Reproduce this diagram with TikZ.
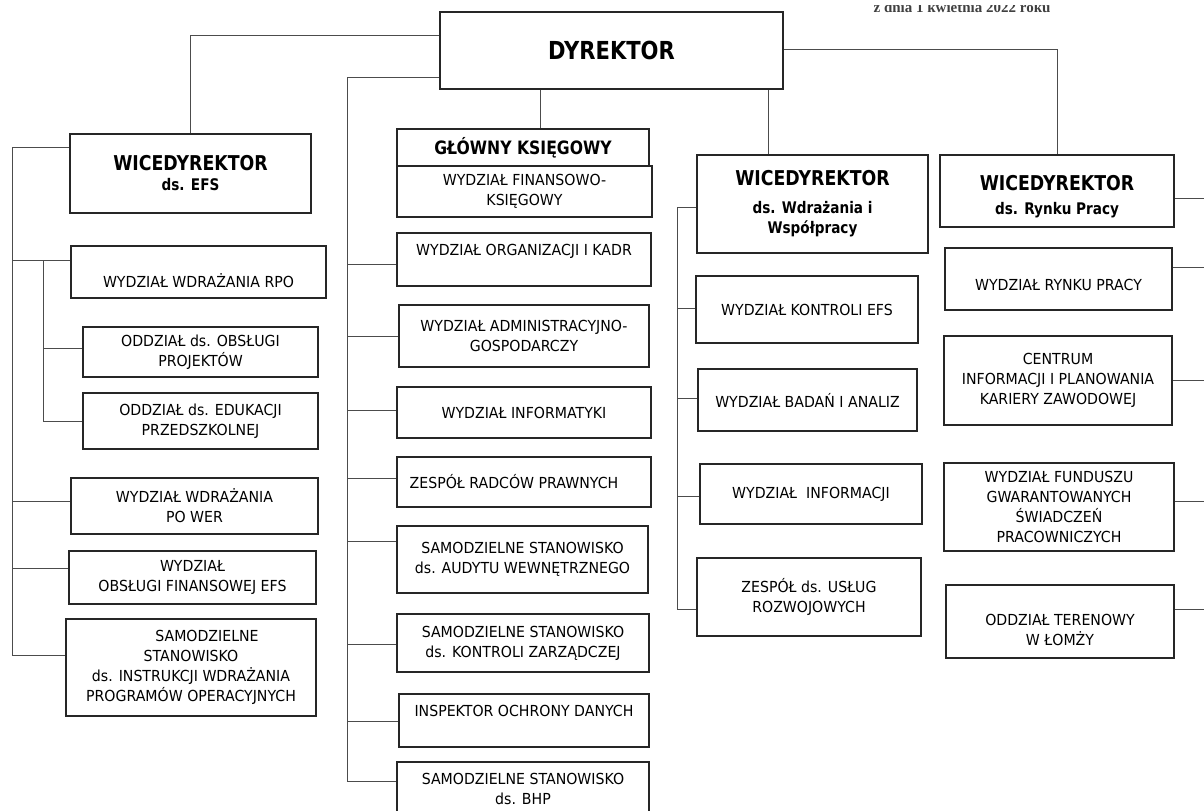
\documentclass[tikz,border=0pt]{standalone}
\usepackage{fontspec}
\setmainfont{DejaVu Sans}[FakeStretch=0.93]
\newfontfamily\headfont{DejaVu Sans}[FakeStretch=0.85]
\newfontfamily\datefont{Liberation Serif}
\newcommand\bossfont{\headfont\bfseries\fontsize{12.4}{14}\selectfont}
\newcommand\vdtitle{\headfont\bfseries\fontsize{10.2}{12}\selectfont}
\newcommand\vdsub{\headfont\bfseries\fontsize{8}{9.5}\selectfont}
\newcommand\gkfont{\headfont\bfseries\fontsize{9.2}{11}\selectfont}
\newcommand\shiftdn[1]{\rule{0pt}{\dimexpr5.5pt+#1pt\relax}}
\newcommand\shiftup[1]{\rule[-#1pt]{0pt}{#1pt}}
\tikzset{
    orgbox/.style = {draw=black!85, line width=0.65pt, align=center, inner sep=0pt, font=\fontsize{7.6}{10}\selectfont},
    dims/.style 2 args = {minimum width=#1*0.5pt, minimum height=#2*0.5pt},
    conn/.style = {draw=black!70, line width=0.5pt}
}

\begin{document}
\begin{tikzpicture}[x=0.5pt, y=-0.5pt]
        \useasboundingbox (0,0) rectangle (1204,810);

        \begin{scope}
            \clip (850,5.5) rectangle (1070,20);
            \node[font=\datefont\bfseries\fontsize{7.5}{9}\selectfont, text=black!75, anchor=base] (date) at (962,12) {z dnia 1 kwietnia 2022 roku};
        \end{scope}

        \node[orgbox, dims={343}{77}] (dyr) at (611.5,50.5) {\bossfont DYREKTOR};
        \node[orgbox, dims={241}{79}] (efs) at (190.5,173.5) {{\vdtitle WICEDYREKTOR}\\{\vdsub ds. EFS}};
        \node[orgbox, dims={252}{37}] (gk) at (523,147.5) {\gkfont GŁÓWNY KSIĘGOWY};
        \node[orgbox, dims={255}{51}] (fk) at (524.5,191.5) {WYDZIAŁ FINANSOWO-\\KSIĘGOWY};
        \node[orgbox, dims={231}{98}] (wdr) at (812.5,204) {{\vdtitle WICEDYREKTOR}\\[4pt]{\vdsub ds. Wdrażania i}\\{\vdsub Współpracy}};
        \node[orgbox, dims={234}{72}] (rp) at (1057,191) {{\vdtitle\shiftdn{8}WICEDYREKTOR}\\[2pt]{\vdsub ds. Rynku Pracy}};

        \node[orgbox, dims={255}{52}] (rpo) at (198.5,272) {\shiftdn{10}WYDZIAŁ WDRAŻANIA RPO};
        \node[orgbox, dims={235}{50}] (obs) at (200.5,352) {ODDZIAŁ ds. OBSŁUGI\\PROJEKTÓW};
        \node[orgbox, dims={235}{56}] (edu) at (200.5,421) {ODDZIAŁ ds. EDUKACJI\\PRZEDSZKOLNEJ};
        \node[orgbox, dims={247}{56}] (wer) at (194.5,506) {WYDZIAŁ WDRAŻANIA\\PO WER};
        \node[orgbox, dims={247}{53}] (fin) at (192.5,577.5) {WYDZIAŁ\\OBSŁUGI FINANSOWEJ EFS};
        \node[orgbox, dims={250}{97}] (ins) at (191,667.5) {\hspace*{16pt}SAMODZIELNE\\STANOWISKO\\ds. INSTRUKCJI WDRAŻANIA\\PROGRAMÓW OPERACYJNYCH};

        \node[orgbox, dims={254}{53}] (kadr) at (524,259.5) {WYDZIAŁ ORGANIZACJI I KADR\shiftup{9.5}};
        \node[orgbox, dims={250}{62}] (adm) at (524,336) {WYDZIAŁ ADMINISTRACYJNO-\\GOSPODARCZY};
        \node[orgbox, dims={254}{51}] (it) at (524,412.5) {WYDZIAŁ INFORMATYKI};
        \node[orgbox, dims={254}{50}] (rad) at (524,482) {ZESPÓŁ RADCÓW PRAWNYCH\hspace*{10pt}};
        \node[orgbox, dims={251}{67}] (aud) at (522.5,559.5) {SAMODZIELNE STANOWISKO\\ds. AUDYTU WEWNĘTRZNEGO};
        \node[orgbox, dims={252}{58}] (kz) at (523,643) {SAMODZIELNE STANOWISKO\\ds. KONTROLI ZARZĄDCZEJ};
        \node[orgbox, dims={250}{53}] (iod) at (524,720.5) {INSPEKTOR OCHRONY DANYCH\shiftup{9.5}};
        \node[orgbox, dims={252}{53}] (bhp) at (523,788.5) {SAMODZIELNE STANOWISKO\\ds. BHP};

        \node[orgbox, dims={222}{67}] (kon) at (807,309.5) {WYDZIAŁ KONTROLI EFS};
        \node[orgbox, dims={219}{62}] (bad) at (807.5,400) {WYDZIAŁ BADAŃ I ANALIZ};
        \node[orgbox, dims={222}{60}] (inf) at (811,494) {WYDZIAŁ\ \ INFORMACJI};
        \node[orgbox, dims={224}{78}] (usl) at (809,597) {ZESPÓŁ ds. USŁUG\\ROZWOJOWYCH};

        \node[orgbox, dims={227}{62}] (ryn) at (1058.5,279) {\shiftdn{6}WYDZIAŁ RYNKU PRACY};
        \node[orgbox, dims={228}{89}] (cen) at (1058,380.5) {CENTRUM\\INFORMACJI I PLANOWANIA\\KARIERY ZAWODOWEJ};
        \node[orgbox, dims={230}{88}] (fund) at (1059,507) {WYDZIAŁ FUNDUSZU\\GWARANTOWANYCH\\ŚWIADCZEŃ\\PRACOWNICZYCH};
        \node[orgbox, dims={228}{73}] (lom) at (1060,621.5) {\shiftdn{9}ODDZIAŁ TERENOWY\\W ŁOMŻY};

        \coordinate (ltrunk) at (12,655);
        \coordinate (itrunk) at (43,421);
        \coordinate (mtrunk) at (347,781);
        \coordinate (rtrunk) at (677,609);
        \coordinate (redge) at (1212,0);

        \draw[conn] (dyr.west |- 0,35) -| (efs.north);
        \draw[conn] (dyr.west |- 0,77) -| (mtrunk) -- (bhp.west |- mtrunk);
        \draw[conn] ([xshift=8.5pt]gk.north) -- ([xshift=8.5pt]gk.north |- dyr.south);
        \draw[conn] ([xshift=-22.25pt]wdr.north) -- ([xshift=-22.25pt]wdr.north |- dyr.south);
        \draw[conn] (dyr.east |- 0,49) -| (rp.north);

        \draw[conn] (efs.west |- 0,147) -| (ltrunk) -- (ins.west |- ltrunk);
        \foreach \n/\y in {rpo/260, wer/501, fin/568}
            \draw[conn] (\n.west |- 0,\y) -- (ltrunk |- 0,\y);
        \draw[conn] (itrunk |- 0,260) -- (itrunk) -- (edu.west |- itrunk);
        \draw[conn] (obs.west |- 0,348) -- (itrunk |- 0,348);

        \foreach \n/\y in {kadr/264, adm/336, it/410, rad/478, aud/541, kz/644, iod/721}
            \draw[conn] (\n.west |- 0,\y) -- (mtrunk |- 0,\y);

        \draw[conn] (wdr.west |- 0,207) -| (rtrunk) -- (usl.west |- rtrunk);
        \foreach \n/\y in {kon/308, bad/398, inf/496}
            \draw[conn] (\n.west |- 0,\y) -- (rtrunk |- 0,\y);

        \foreach \n/\y in {rp/198, ryn/267, cen/380, fund/501, lom/609}
            \draw[conn] (\n.east |- 0,\y) -- (redge |- 0,\y);
    \end{tikzpicture}
\end{document}
